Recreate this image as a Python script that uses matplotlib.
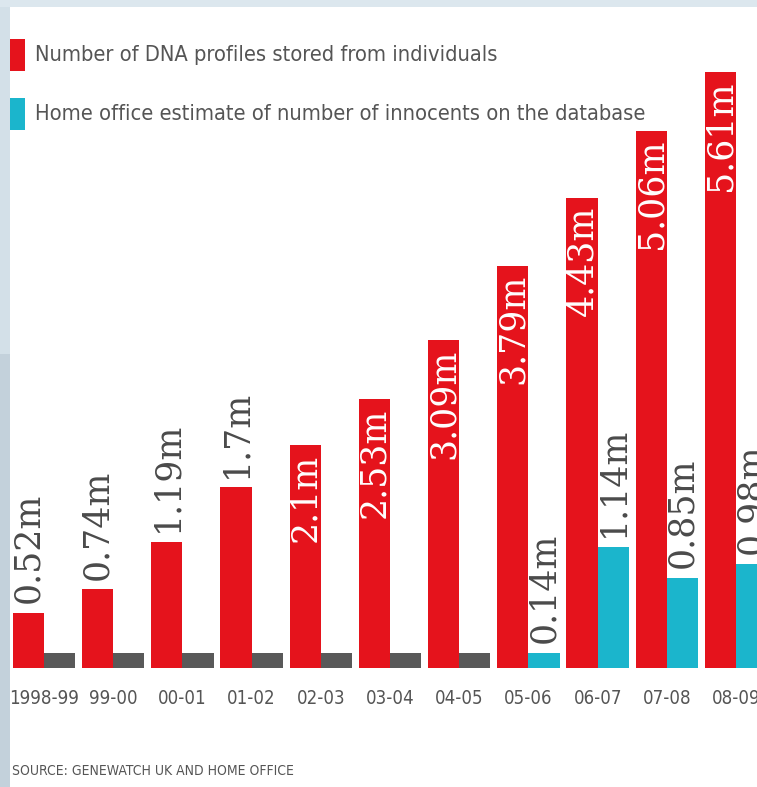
import matplotlib
matplotlib.use("Agg")
import matplotlib.pyplot as plt
from matplotlib import font_manager as fm
from matplotlib.patches import Rectangle

# ---------------- data ----------------
years = ["1998-99", "99-00", "00-01", "01-02", "02-03", "03-04",
         "04-05", "05-06", "06-07", "07-08", "08-09"]
profiles = [0.52, 0.74, 1.19, 1.7, 2.1, 2.53, 3.09, 3.79, 4.43, 5.06, 5.61]
innocents = [None, None, None, None, None, None, None, 0.14, 1.14, 0.85, 0.98]
legend_labels = ["Number of DNA profiles stored from individuals",
                 "Home office estimate of number of innocents on the database"]
source_text = "SOURCE: GENEWATCH UK AND HOME OFFICE"

# ---------------- styles ----------------
RED = "#e5131c"
CYAN = "#1bb5cc"
NODATA = "#595959"
TXT = "#555555"
NO_DATA_HEIGHT = 0.14
INSIDE_MIN = 2.0
BAR_W = 0.45

# pick a condensed sans if one is installed
cond_file = None
for f in fm.fontManager.ttflist:
    if ("Narrow" in f.name or "Condensed" in f.name or
            str(f.stretch) in ("condensed", "semi-condensed", "extra-condensed")) \
            and str(f.style) == "normal" and f.weight in (400, "normal", "regular"):
        if "Sans" in f.name or "sans" in f.fname.lower() or "Narrow" in f.name:
            cond_file = f.fname
            break
if cond_file:
    CONDP = fm.FontProperties(fname=cond_file)
else:
    CONDP = fm.FontProperties(family="Liberation Sans")
SERIF = "DejaVu Serif"

W, H = 757, 787
fig = plt.figure(figsize=(W / 100, H / 100), dpi=100)
fig.patch.set_facecolor("white")

# background artefacts: left and top bands
fig.patches.append(Rectangle((0, 0), 10 / W, 1, transform=fig.transFigure,
                             facecolor="#c3d1db", edgecolor="none", zorder=0))
fig.patches.append(Rectangle((0, 0.55), 10 / W, 0.45, transform=fig.transFigure,
                             facecolor="#d3e0e8", edgecolor="none", zorder=0))
fig.patches.append(Rectangle((0, 1 - 7 / H), 1, 7 / H, transform=fig.transFigure,
                             facecolor="#dce7ee", edgecolor="none", zorder=0))

base_px = 668
ax = fig.add_axes([0, (H - base_px) / H, 1, base_px / H])
ax.set_facecolor("none")
ax.set_xlim(-0.636, 10.303)
ax.set_ylim(0, 6.29)
for s in ax.spines.values():
    s.set_visible(False)
ax.set_yticks([])

xs = list(range(len(years)))
ax.bar([x - BAR_W / 2 for x in xs], profiles, width=BAR_W, color=RED, zorder=2)
for x, v in zip(xs, innocents):
    if v is None:
        ax.bar(x + BAR_W / 2, NO_DATA_HEIGHT, width=BAR_W, color=NODATA, zorder=2)
    else:
        ax.bar(x + BAR_W / 2, v, width=BAR_W, color=CYAN, zorder=2)

LBL_SIZE = 25
for x, v in zip(xs, profiles):
    lab = f"{v:g}m"
    if v >= INSIDE_MIN:
        ax.annotate(lab, (x - BAR_W / 2, v), xytext=(0, -6), textcoords="offset points",
                    rotation=90, ha="center", va="top", color="white",
                    fontsize=LBL_SIZE, family=SERIF, zorder=3)
    else:
        ax.annotate(lab, (x - BAR_W / 2, v), xytext=(0, 7), textcoords="offset points",
                    rotation=90, ha="center", va="bottom", color="#4a4a4a",
                    fontsize=LBL_SIZE, family=SERIF, zorder=3)
for x, v in zip(xs, innocents):
    if v is None:
        continue
    ax.annotate(f"{v:g}m", (x + BAR_W / 2, v), xytext=(0, 7), textcoords="offset points",
                rotation=90, ha="center", va="bottom", color="#4a4a4a",
                fontsize=LBL_SIZE, family=SERIF, zorder=3)

# ---- helper to fit text width ----
renderer = fig.canvas.get_renderer()
def fit_size(text, target_px, base=20):
    t = fig.text(0, 0, text, fontproperties=CONDP)
    t.set_fontsize(base)
    w = t.get_window_extent(renderer).width
    t.remove()
    return base * target_px / w

tick_size = fit_size("1998-99", 70)
ax.set_xticks(xs)
ax.set_xticklabels(years, color=TXT)
for tl in ax.get_xticklabels():
    tl.set_fontproperties(CONDP)
    tl.set_fontsize(tick_size)
ax.tick_params(axis="x", length=0, pad=15)

# legend
leg_colors = [RED, CYAN]
leg_y = [55, 114]
leg_w = [428, 565]
for lab, c, y, w in zip(legend_labels, leg_colors, leg_y, leg_w):
    fig.patches.append(Rectangle((10 / W, 1 - (y + 16) / H), 15 / W, 32 / H,
                                 transform=fig.transFigure, facecolor=c,
                                 edgecolor="none", zorder=1))
    t = fig.text(35 / W, 1 - y / H, lab, fontproperties=CONDP,
                 color=TXT, ha="left", va="center")
    t.set_fontsize(fit_size(lab, w) * 1.08)

t = fig.text(12 / W, 1 - 771 / H, source_text, fontproperties=CONDP,
             color=TXT, ha="left", va="center")
t.set_fontsize(fit_size(source_text, 226) * 1.25)

fig.savefig("out.png", dpi=100, facecolor=fig.get_facecolor())
